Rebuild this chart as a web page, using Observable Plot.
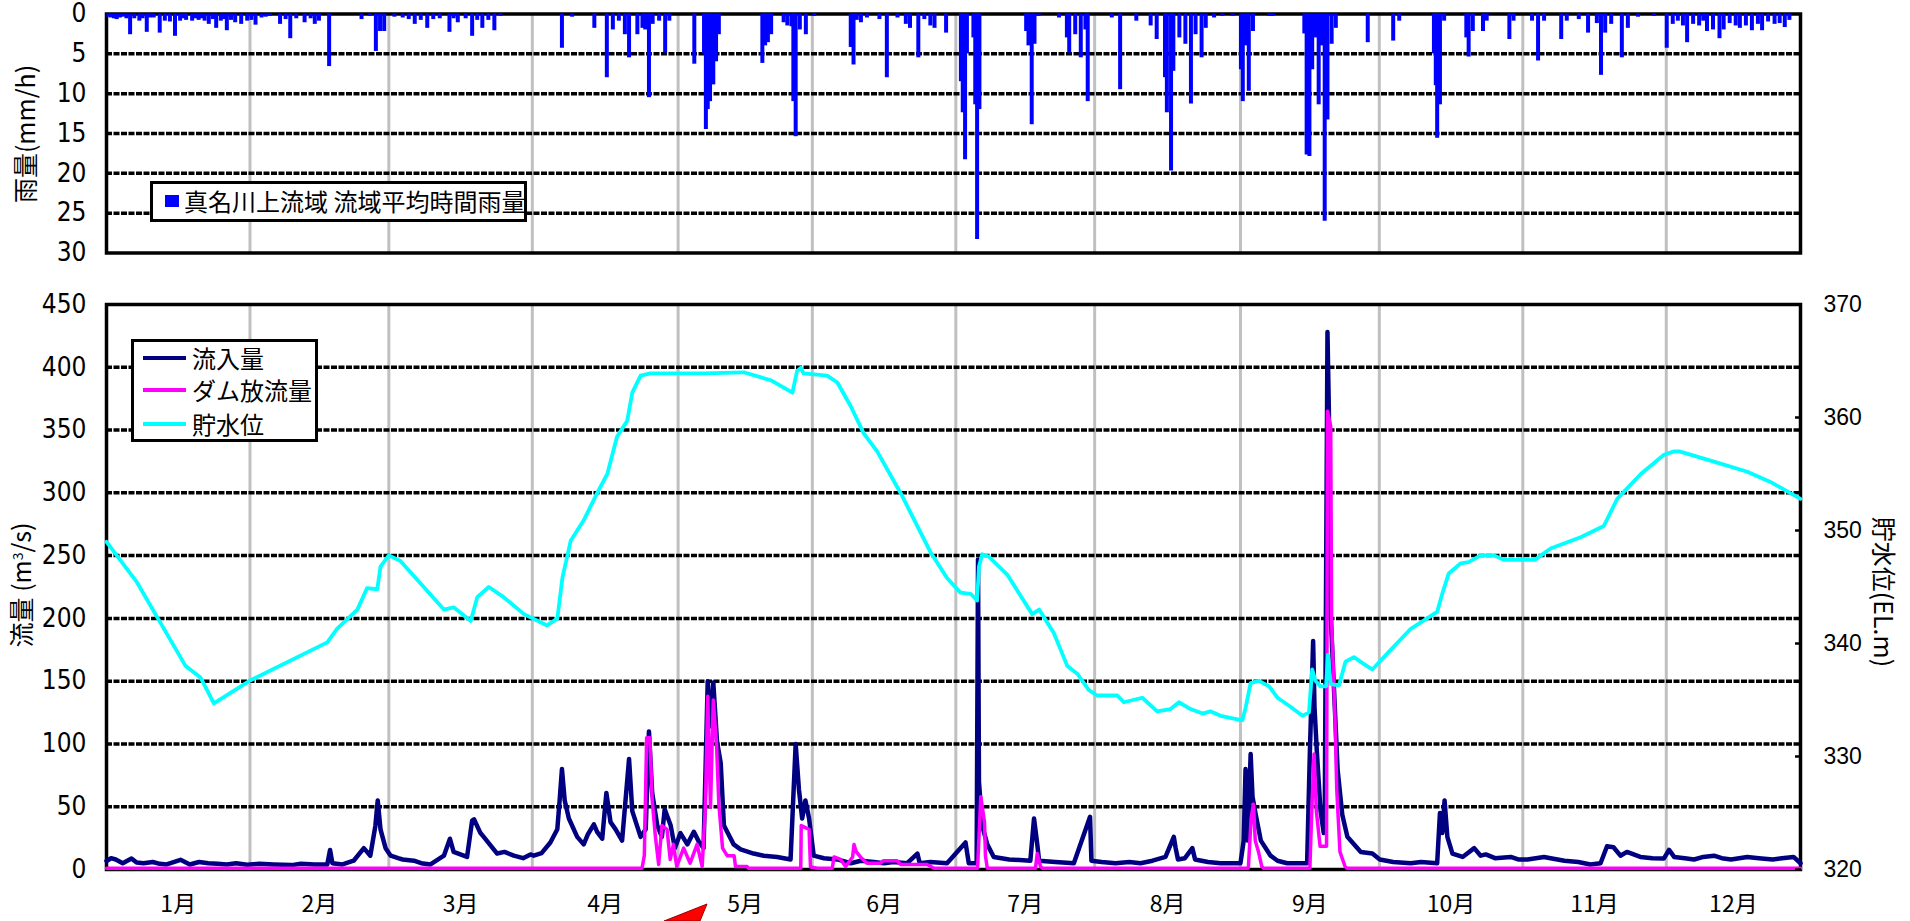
<!DOCTYPE html>
<html><head><meta charset="utf-8">
<script src="https://cdn.jsdelivr.net/npm/d3@7"></script>
<script src="https://cdn.jsdelivr.net/npm/@observablehq/plot@0.6"></script>
<style>
html,body{margin:0;padding:0;background:#fff}
body{width:1910px;height:921px;overflow:hidden;position:relative;font-family:"Noto Sans CJK JP","Noto Sans",sans-serif;color:#000}
#top,#bot{position:absolute;left:0}
#top{top:0}
#bot{top:270px}
.ttl{position:absolute;white-space:nowrap;font-size:25px;line-height:1;transform-origin:center center}
.box{position:absolute;background:#fff;border:3px solid #000;box-sizing:border-box}
.lgtxt{position:absolute;font-size:24px;line-height:1;white-space:nowrap}
.lgline{position:absolute;height:4px}
</style>
</head><body>
<div id="top"></div>
<div id="bot"></div>
<script>
// ---- month axis (x in days from start of the chart) ----
const monthLabels = ["1月","2月","3月","4月","5月","6月","7月","8月","9月","10月","11月","12月"];
const monthEdges = [0,31,61,92,123.5,152.5,183.5,213.5,245,275,306,337,366];

// ---- rainfall: 真名川上流域 流域平均時間雨量 [day, mm/h] ----
const rainDay = [0.4,0.9,1.6,2.2,2.9,3.5,4.3,5.1,6,7.1,7.8,8.7,9.4,10.2,11.5,12.6,13.7,14.8,15.9,16.6,17.2,18.5,19.2,19.9,20.6,21.2,22.1,23,23.7,24.7,25.4,26,26.9,27.8,29.1,30.4,31.3,32.2,33.5,34.4,35.3,37.5,38.7,39.7,41,42.8,44.1,45,45.9,48.1,55.1,56.9,58.2,59.1,60,62.2,64,65.3,66.6,67.9,69.3,70.6,72,74.1,75,75.9,77.6,79,80.1,81.2,82.5,83.8,85.1,98.4,100.6,105.4,108.1,109.4,110.7,112,112.9,114.7,
115.8,116.4,117.2,118,119.4,120.7,121.6,127,129.1,129.5,129.9,130.4,131.1,131.7,132.3,141.7,142.3,142.9,143.6,146.3,147.1,148,148.4,148.9,149.8,151.1,152.9,160.8,161.4,162.1,163,164.3,167,168.6,170.9,172.7,173.6,175.4,176.7,178,178.9,181.4,184.6,185,185.5,185.9,187.3,187.7,188.1,188.6,198.7,199.2,199.9,200.5,201.4,205.8,207.5,208,209.3,210.5,211.5,212,217.2,219,222.5,225.6,226.9,228.7,229.1,230,230.5,231.8,233.1,234.3,235.3,236.6,237.5,239.3,241.1,243.3,245.1,245.5,246.1,246.8,247.7,251.2,
252,258.8,259.3,259.9,260.5,261.2,261.9,262.5,263.2,263.8,264.7,265.6,272.5,278,279.3,286.8,287.2,287.5,288.1,289,293.8,294.3,295.2,297.4,298.2,303.1,304,308,309.3,310.6,314.3,315.5,318.1,320.1,322,322.9,323.8,325.1,327.4,328.7,330.9,334.4,337.1,338.4,339.5,340.6,341.5,342.8,344.1,345,345.8,347.1,348.5,349.4,350.7,352,352.9,354.2,355.5,356.8,357.7,359,360.4,361.5,362.6,363.6];
const rainMm = [0.4,0.5,0.6,0.7,0.5,0.4,0.6,2.6,0.6,0.9,0.6,2.3,0.5,0.5,2.4,0.9,1.0,2.8,0.9,0.6,0.8,0.9,0.6,0.8,0.6,0.9,1.3,0.7,1.8,0.9,0.7,2.1,0.8,1.1,1.3,0.9,0.8,1.4,0.5,0.4,0.3,1.3,0.7,3.1,0.6,1.1,0.6,1.3,0.9,6.6,0.7,0.3,4.7,2.2,2.2,0.4,0.5,0.7,1.3,0.8,1.8,0.7,0.6,2.3,0.6,1.1,0.6,2.8,0.8,1.8,0.8,2.1,0.3,4.3,0.4,1.8,8.0,2.0,0.9,2.6,5.5,2.6,
1.8,2.0,10.5,1.3,0.9,4.9,0.9,6.3,5.0,14.5,12.0,11,8.9,6.0,2.6,6.2,4.0,3.6,2.6,1.1,1.5,1.6,11,15.4,2.0,2.6,0.3,4.2,6.4,0.8,1.1,0.5,0.7,8.0,0.5,1.3,1.8,5.5,0.7,1.5,1.8,2.4,8.5,12.4,18.3,5,3.0,11.4,28.3,12,2.2,4.0,13.9,3.8,0.3,0.5,3.0,4.9,2.6,5.5,2.0,11,0.5,9.5,0.9,1.5,3.2,8,12.4,19.7,7.2,3,3.8,11.3,2.6,5.5,1.8,0.5,0.3,0.3,7,11,4,9.7,2.2,0.3,
0.3,2.5,17.7,17.9,7,3,11.4,4,26,13.3,3.8,1.8,3.6,3.4,0.9,5,9,15.6,11.4,0.9,3.0,5.4,2.2,2.2,0.9,3.2,0.9,0.9,5.9,0.9,3.2,0.9,0.7,2.4,1.2,7.7,2.4,1.3,5.5,1.8,0.4,0.3,4.3,1.3,0.9,1.5,3.6,1.3,1.5,0.9,2.2,2.0,3.1,2.0,1.2,1.5,1.8,1.5,2.1,1.3,2.1,1.0,1.3,1.2,1.7,0.8];

// ---- 流入量 [day, m3/s] ----
const inflowDay = [0,1,2,3.5,5.4,6.5,8,10,11.5,13,16,18,20,22,24,26,28,30.4,33,36.1,40,42,45,47.7,48.3,48.8,51,53.4,55.6,57,58.1,58.6,59.2,60.3,61.4,63,64,66.4,68,70,72.9,74.2,75,77.9,79,79.4,80.8,81.5,84.4,86,88,90,91.6,92.3,94,95.9,97.4,97.9,98.4,99,99.9,101.7,103.1,104,105.3,106,107.1,108,108.9,110,111.4,112.9,113.6,115.4,116.5,117.2,117.9,119,120,120.6,121.9,122.8,124,125.5,126.9,128,129,129.9,130.5,131.1,131.9,132.7,133.4,135.5,137,139.8,142,144.9,147.8,148.9,149.6,150.3,151,151.8,152.8,155,157.9,160.8,163,165.8,168,170,173,175.2,175.7,178,181.6,185.6,186.3,188,188.3,188.5,189.2,190.3,191.7,195,199.6,200.4,201.1,201.5,205,209,212.5,212.8,215,218,221,223.4,226,228.8,230.6,231,231.5,233,234.6,235.2,238,240.7,245,245.7,246.1,246.6,247.2,247.6,248.3,249.4,251.5,253,255.1,257,259.4,260,260.7,261,261.5,262.3,263,263.2,263.8,264.1,264.5,265.2,266,267,268.1,271,273.5,275.1,278,281.8,284,287.5,288.1,288.6,289.1,289.7,290.8,293,295.5,296.9,298,300,303.4,305,307,310.6,312,315,318,320.6,322.8,324.2,325.6,327.1,328.5,331.4,334,336.5,337.6,338.7,341,343,345,347.3,349,351,354.5,357,360,362,364.5,366];
const inflowQ = [6.8,9,8,5,8.8,5.5,5,6,4.5,4,7.7,4,6,5,4.5,4,5,3.8,4.5,4,3.5,4.5,4,4,15.6,5,4,7,17,11,35,55,32,17,11,9,8,7,5,4,11,24.5,14,10,39,40,29,26,12.7,14,11,9,12,11,13,21.5,32,55,80,55,40.6,26,20,28,36,30,24.5,61,37.7,32,23,88,46.5,26,32,110,61,35,26,48,35,17,29,20,30,22,17,150,114,149,102,85,35,20,16,12.7,11,10,8,100,64,40.6,55,40.6,11,9,8,5,7,6,5,6,5,12.7,5,6,5,21.5,5,5,247,70,35,20,10,8,7,40.6,20,7,6,5,42,7,6,5,6,5,7,10,26,17,8,9,17,8,6,5,5,23,80,23,92,58,43.6,23,11,7,5,5,5,94,182,129,94,46.5,29,35,428,365,203,144,79,43.6,26,14,12.7,8,6,5,6,5,45,29,55,26,12.7,10,17,11,12,9,10,8,8,10,9,7,6,4,5,18.5,17.7,11,14,10,9,8.8,15.6,10,9,8,10,11,9,8,10,9,8,9,10,5];

// ---- ダム放流量 [day, m3/s] ----
const releaseDay = [0,115.7,116.2,116.7,117.4,117.9,118.6,119.3,120,121.1,121.8,122.5,123.2,124.7,126.1,127.6,128.7,129.4,129.9,130.5,131.1,131.8,132.3,133.1,134.1,135.6,135.9,138.4,138.7,150,150.1,151.8,152.1,153.6,156.8,157.2,158.6,159.7,161.2,161.5,162,162.9,164.3,167.2,167.9,170.8,171.6,177.3,178.8,188.2,188.9,189.7,189.9,190.3,200.7,201.1,201.8,202.2,246.7,247.3,247.8,248.2,248.9,249.6,250,260,260.4,260.9,261.4,262.2,263.6,263.8,264.5,264.7,265.4,265.8,266.5,267.6,268,366];
const releaseQ = [1,1,11,105,105,55,26,4,35,32,8,20,2.4,17,5,20,2.4,51,138,49.5,135,100,52,17,11,11,2.4,2.4,1,1,35,32,2,1,1,10,8,2.4,10,20,14,10,5,5,7,7,4,4,1,1,58,37.7,11,1,1,12.7,2.4,1,1,40.6,52,23,14,2.4,1,1,46.5,92,46.5,18.5,18.5,365,353,197,123,64,14,2.4,1,1];

// ---- 貯水位 [day, EL.m] ----
const levelDay = [0,6.6,11.7,17.1,20.3,23.2,30.9,47.7,49.8,54.2,56.3,58.5,59.2,61,63.5,72.9,75,78.7,80.1,82.6,85.8,90.2,95.2,97.4,98.5,100.3,103.1,106,108.2,110.3,112.5,113.6,115.4,117.5,129,137.7,143.5,148.2,149.2,150,150.6,155.7,157.9,160.8,163.6,166.5,171.6,178,181.6,184.5,186.7,188.1,188.5,189.2,190.6,194.6,200,201.5,204.7,207.6,209.8,212.2,214,218.4,219.8,223.8,227,229.9,231.7,234.2,236.8,238.5,240.7,245.4,246.1,247.2,249,251.2,253,255.8,258.4,259.8,260.5,261.2,262.3,263.5,263.9,264.5,266.3,267.7,269.5,271.6,273.5,276.7,281.8,287.5,288.6,290,292.6,294.3,296.9,299.8,301.9,305.5,308.6,312,318.5,323.5,326.4,331.5,336.5,338.7,339.8,347.3,354.5,359.5,366];
const levelEL = [349.0,345.4,341.8,338.0,337.0,334.7,336.7,340.1,341.3,343.0,344.9,344.8,346.8,347.8,347.3,343.0,343.2,342.0,344.1,345.0,344.1,342.6,341.6,342.2,345.8,349.1,350.9,353.3,355.0,358.3,359.7,362.2,363.7,363.9,363.9,364.0,363.3,362.2,364.1,364.4,363.9,363.7,363.1,361.0,358.6,357.0,353.3,348.1,345.8,344.5,344.4,343.8,346.8,347.9,347.7,346.1,342.6,343.0,340.9,338.0,337.3,335.9,335.4,335.4,334.8,335.2,334.0,334.2,334.8,334.2,333.8,334.0,333.6,333.2,334.3,336.5,336.7,336.2,335.2,334.4,333.6,333.9,337.7,336.7,336.2,336.2,339.0,336.4,336.3,338.4,338.8,338.2,337.7,339.1,341.3,342.8,344.4,346.2,347.1,347.2,347.8,347.8,347.4,347.4,347.4,348.4,349.4,350.4,352.8,355.0,356.7,357.0,357.0,356.1,355.2,354.3,352.8];

// ---- axis ticks ----
const rainTicks = [0,5,10,15,20,25,30];
const flowTicks = [0,50,100,150,200,250,300,350,400,450];
const levelTicks = [320,330,340,350,360,370];

// secondary axis mapping (320–370 m on 0–450 m3/s)
const LV0 = 320, LV1 = 370, Q1 = 450;
const lv = v => (v - LV0) / (LV1 - LV0) * Q1;

const rain = rainDay.map((d, i) => ({d, v: rainMm[i]}));
const inflow = inflowDay.map((d, i) => ({d, v: inflowQ[i]}));
const release = releaseDay.map((d, i) => ({d, v: releaseQ[i]}));
const level = levelDay.map((d, i) => ({d, v: lv(levelEL[i])}));
const mids = monthEdges.slice(0, -1).map((e, i) => (e + monthEdges[i + 1]) / 2);

const W = 1910, ML = 106, MR = 110;
const numFont = "'Liberation Sans Narrow','DejaVu Sans Condensed','Liberation Sans',sans-serif";
const dash = "6,1.5";

const topPlot = Plot.plot({
  width: W, height: 270,
  marginLeft: ML, marginRight: MR, marginTop: 13.5, marginBottom: 17.5,
  style: {background: "transparent", overflow: "visible"},
  x: {domain: [0, 366], axis: null},
  y: {domain: [0, 30], reverse: true},
  marks: [
    Plot.ruleX(monthEdges.slice(1, -1), {stroke: "#c0c0c0", strokeWidth: 3}),
    Plot.ruleY(rainTicks.slice(1, -1), {stroke: "#000", strokeWidth: 3.5, strokeDasharray: dash}),
    Plot.frame({stroke: "#000", strokeWidth: 3.5}),
    Plot.ruleX(rain, {x: "d", y1: 0, y2: "v", stroke: "#0000ff", strokeWidth: 4}),
    Plot.axisY(rainTicks, {anchor: "left", tickSize: 0, tickPadding: 20, fontSize: 26, fontFamily: numFont, label: null})
  ]
});
document.getElementById("top").appendChild(topPlot);

const botPlot = Plot.plot({
  width: W, height: 651,
  marginLeft: ML, marginRight: MR, marginTop: 34, marginBottom: 52,
  style: {background: "transparent", overflow: "visible"},
  x: {domain: [0, 366]},
  y: {domain: [0, 450]},
  marks: [
    Plot.ruleX(monthEdges.slice(1, -1), {stroke: "#c0c0c0", strokeWidth: 3}),
    Plot.ruleY(flowTicks.slice(1, -1), {stroke: "#000", strokeWidth: 3.5, strokeDasharray: dash}),
    Plot.frame({stroke: "#000", strokeWidth: 3.5}),
    Plot.line(inflow, {x: "d", y: "v", stroke: "#000080", strokeWidth: 4.5}),
    Plot.line(release, {x: "d", y: "v", stroke: "#ff00ff", strokeWidth: 3.5}),
    Plot.line(level, {x: "d", y: "v", stroke: "#00ffff", strokeWidth: 3.8}),
    Plot.axisY(flowTicks, {anchor: "left", tickSize: 0, tickPadding: 20, fontSize: 26, fontFamily: numFont, label: null}),
    Plot.axisY(levelTicks.map(lv), {anchor: "right", tickSize: 6, insetRight: 6, strokeWidth: 2.5, tickFormat: () => "", label: null}),
    Plot.axisY(levelTicks.map(lv), {anchor: "right", tickSize: 0, tickPadding: 23, fontSize: 23, fontFamily: "'Liberation Sans',Arial,sans-serif", tickFormat: v => String(Math.round(LV0 + v / Q1 * (LV1 - LV0))), label: null}),
    Plot.axisX(mids, {anchor: "bottom", tickSize: 0, tickPadding: 26, fontSize: 23, fontFamily: "'Noto Sans CJK JP',sans-serif", tickFormat: d => monthLabels[mids.indexOf(d)], label: null})
  ]
});
document.getElementById("bot").appendChild(botPlot);
</script>

<!-- axis titles -->
<div class="ttl" style="left:24px;top:134px;transform:translate(-50%,-50%) rotate(-90deg)">雨量(mm/h)</div>
<div class="ttl" style="left:20px;top:585px;transform:translate(-50%,-50%) rotate(-90deg)">流量 (m<sup style="font-size:14px;vertical-align:8px">3</sup>/s)</div>
<div class="ttl" style="left:1884px;top:592px;transform:translate(-50%,-50%) rotate(90deg)">貯水位(EL.m)</div>

<!-- rain legend -->
<div class="box" style="left:150px;top:181px;width:377px;height:41px"></div>
<div style="position:absolute;left:165px;top:195px;width:14px;height:12px;background:#0000ff"></div>
<div class="lgtxt" style="left:184px;top:189px">真名川上流域 流域平均時間雨量</div>

<!-- flow legend -->
<div class="box" style="left:131px;top:339px;width:187px;height:103px"></div>
<div class="lgline" style="left:143px;top:356px;width:43px;background:#000080"></div>
<div class="lgline" style="left:143px;top:388px;width:43px;background:#ff00ff"></div>
<div class="lgline" style="left:143px;top:422px;width:43px;background:#00ffff"></div>
<div class="lgtxt" style="left:192px;top:346px">流入量</div>
<div class="lgtxt" style="left:192px;top:378px">ダム放流量</div>
<div class="lgtxt" style="left:192px;top:412px">貯水位</div>

<!-- red pointer -->
<svg style="position:absolute;left:660px;top:900px" width="60" height="21"><polygon points="47,4 4,21 40,21" fill="#ff0000" stroke="#990000" stroke-width="1"/></svg>
</body></html>
